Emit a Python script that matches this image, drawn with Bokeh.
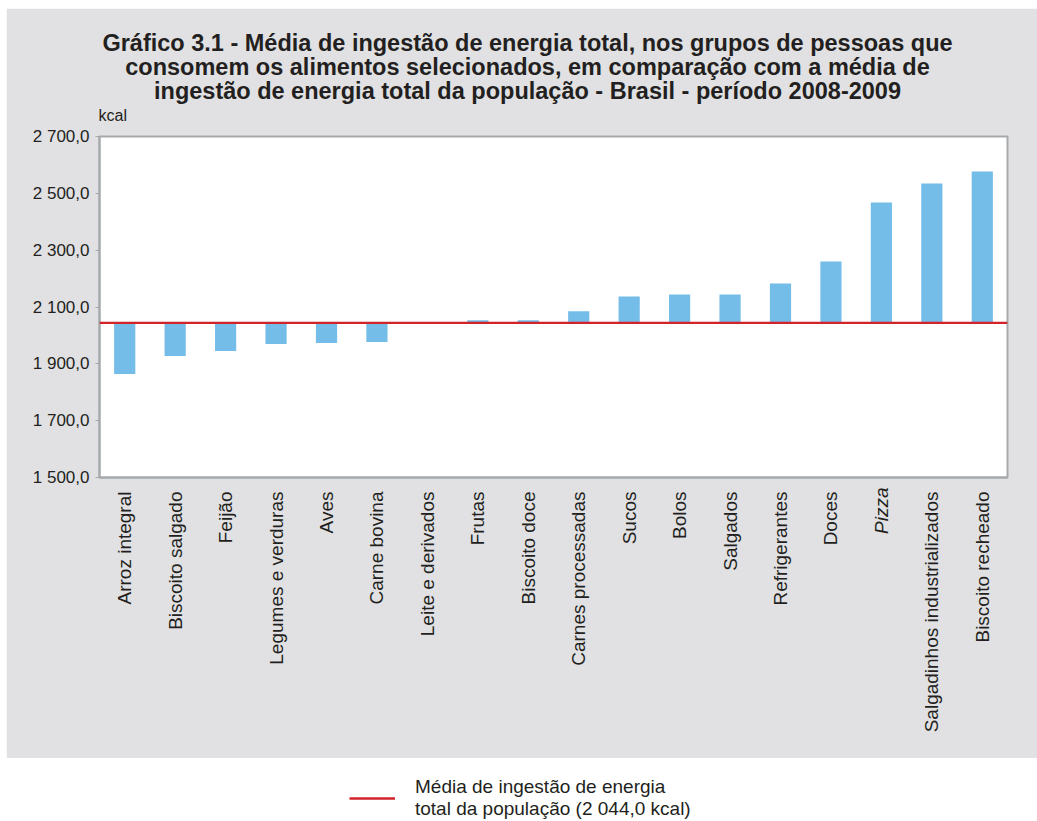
import math
from bokeh.plotting import figure
from bokeh.models import (ColumnDataSource, Span, FixedTicker, Label,
                          Legend, LegendItem, Range1d)
from bokeh.layouts import column
from bokeh.embed import file_html
from bokeh.resources import INLINE

# ---------------- data ----------------
categories = ["Arroz integral", "Biscoito salgado", "Feijão", "Legumes e verduras",
              "Aves", "Carne bovina", "Leite e derivados", "Frutas", "Biscoito doce",
              "Carnes processadas", "Sucos", "Bolos", "Salgados", "Refrigerantes",
              "Doces", "Pizza", "Salgadinhos industrializados", "Biscoito recheado"]
values = [1864, 1928, 1945, 1970, 1973, 1977, 2046, 2053, 2053,
          2085, 2137, 2144, 2144, 2183, 2260, 2468, 2535, 2577]
mean_value = 2044.0
italic_categories = ["Pizza"]
y_ticks = [1500, 1700, 1900, 2100, 2300, 2500, 2700]
y_tick_labels = ["1 500,0", "1 700,0", "1 900,0", "2 100,0", "2 300,0", "2 500,0", "2 700,0"]
title_lines = ["Gráfico 3.1 - Média de ingestão de energia total, nos grupos de pessoas que",
               "consomem os alimentos selecionados, em comparação com a média de",
               "ingestão de energia total da população - Brasil - período 2008-2009"]
unit_text = "kcal"
legend_text = "Média de ingestão de energia\ntotal da população (2 044,0 kcal)"

# ---------------- style ----------------
FONT = "Liberation Sans"
GREY_BG = "#e1e1e3"
FRAME = "#a5a9ac"
TEXT = "#231f20"
BAR = "#75bde9"
RED = "#d2232a"

ML, MR, MT, MB = 93, 30, 128, 281
W, H = 1031, 750
FRAME_W, FRAME_H = W - ML - MR, H - MT - MB
X0, Y0 = 6 + ML, 8 + MT          # page position of the frame's top-left corner

xs = [i + 0.5 for i in range(len(categories))]
src = ColumnDataSource(dict(x=xs, top=values, bottom=[mean_value] * len(values)))

p = figure(width=W, height=H, output_backend="svg", toolbar_location=None,
           x_range=Range1d(0, len(categories)), y_range=Range1d(y_ticks[0], y_ticks[-1]),
           min_border_left=ML, min_border_right=MR, min_border_top=MT,
           min_border_bottom=MB, margin=(8, 0, 0, 6))
p.background_fill_color = "white"
p.border_fill_color = GREY_BG
p.outline_line_color = FRAME
p.outline_line_width = 2
p.xgrid.visible = False
p.ygrid.visible = False


def page_x(px):
    """page pixel -> x data (for text placement)"""
    return (px - X0) / FRAME_W * len(categories)


def page_y(py):
    """page pixel -> y data (for text placement)"""
    return y_ticks[-1] - (py - Y0) / FRAME_H * (y_ticks[-1] - y_ticks[0])


p.vbar(x="x", top="top", bottom="bottom", width=0.42, source=src,
       fill_color=BAR, line_color=None)
p.add_layout(Span(location=mean_value, dimension="width", line_color=RED, line_width=2.4))

# y axis
p.yaxis.ticker = FixedTicker(ticks=y_ticks)
p.yaxis.major_label_overrides = {t: l for t, l in zip(y_ticks, y_tick_labels)}
p.yaxis.minor_tick_line_color = None
p.yaxis.major_tick_in = 0
p.yaxis.major_tick_out = 4
p.yaxis.major_tick_line_color = FRAME
p.yaxis.axis_line_color = FRAME
p.yaxis.axis_line_width = 2
p.yaxis.major_label_text_font = FONT
p.yaxis.major_label_text_font_size = "17px"
p.yaxis.major_label_text_color = TEXT
p.yaxis.major_label_standoff = 6

# x axis
STANDOFF = 8
p.xaxis.ticker = FixedTicker(ticks=xs)
p.xaxis.major_label_overrides = {x: ("" if c in italic_categories else c)
                                 for x, c in zip(xs, categories)}
p.xaxis.major_label_orientation = math.pi / 2
p.xaxis.minor_tick_line_color = None
p.xaxis.major_tick_line_color = None
p.xaxis.axis_line_color = FRAME
p.xaxis.axis_line_width = 2
p.xaxis.major_label_text_font = FONT
p.xaxis.major_label_text_font_size = "19px"
p.xaxis.major_label_text_color = TEXT
p.xaxis.major_label_standoff = STANDOFF

# italic category label(s): placed at the category like the axis labels
for x, c in zip(xs, categories):
    if c in italic_categories:
        p.add_layout(Label(x=x, y=page_y(Y0 + FRAME_H + STANDOFF + 2), text=c,
                           angle=math.pi / 2, text_align="right", text_baseline="middle",
                           text_font=FONT, text_font_size="19px", text_font_style="italic",
                           text_color=TEXT), "right")

# unit label
p.add_layout(Label(x=page_x(98), y=page_y(115), text=unit_text,
                   text_align="left", text_baseline="middle",
                   text_font=FONT, text_font_size="16px", text_color=TEXT), "above")
# title lines, centred on the page like the original
for i, line in enumerate(title_lines):
    p.add_layout(Label(x=page_x(527), y=page_y(42 + 24 * i), text=line,
                       text_align="center", text_baseline="middle",
                       text_font=FONT, text_font_size="23.5px", text_font_style="bold",
                       text_color=TEXT), "above")

# ---------------- legend strip ----------------
q = figure(width=W, height=62, output_backend="svg", toolbar_location=None,
           x_axis_type=None, y_axis_type=None, x_range=(0, 1), y_range=(0, 1),
           min_border_left=ML, min_border_right=MR, min_border_top=0, min_border_bottom=0,
           margin=(0, 0, 0, 6))
q.outline_line_color = None
q.background_fill_color = "white"
q.border_fill_color = "white"
q.xgrid.visible = False
q.ygrid.visible = False
# legend key renderer: the population mean, which lies outside this strip's (0,1) range
r = q.line(x=[xs[0], xs[-1]], y=[mean_value, mean_value], line_color=RED, line_width=2.4)
leg = Legend(items=[LegendItem(label=legend_text, renderers=[r])],
             location=(349 - X0, 0), glyph_width=46, glyph_height=20, label_standoff=20,
             padding=0, margin=0, border_line_alpha=0, background_fill_alpha=0,
             label_text_font=FONT, label_text_font_size="19px", label_text_color=TEXT,
             label_text_line_height=1.1)
q.add_layout(leg)

layout = column(p, q, spacing=0)
open("out.html", "w").write(file_html(layout, INLINE))
